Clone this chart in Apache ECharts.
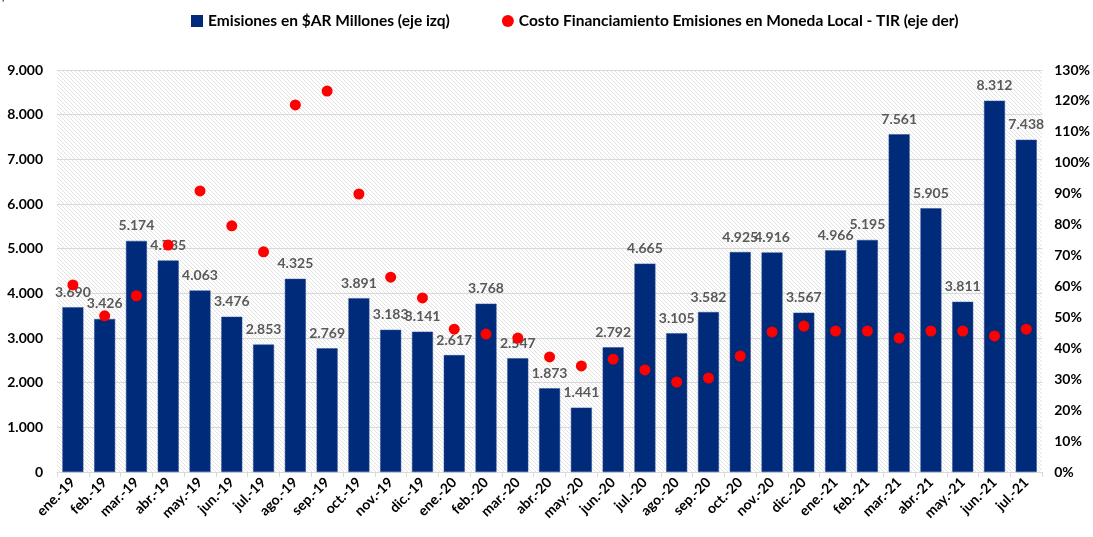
<!DOCTYPE html>
<html>
<head>
<meta charset="utf-8">
<script src="https://cdn.jsdelivr.net/npm/echarts@6/dist/echarts.min.js"></script>
<style>
  html, body { margin: 0; padding: 0; background: #fff; }
  #chart { width: 1093px; height: 537px; }
</style>
</head>
<body>
<div id="chart"></div>
<script>
// datos del gráfico
const meses = ['ene.-19', 'feb.-19', 'mar.-19', 'abr.-19', 'may.-19', 'jun.-19', 'jul.-19', 'ago.-19', 'sep.-19', 'oct.-19', 'nov.-19', 'dic.-19',
    'ene.-20', 'feb.-20', 'mar.-20', 'abr.-20', 'may.-20', 'jun.-20', 'jul.-20', 'ago.-20', 'sep.-20', 'oct.-20', 'nov.-20', 'dic.-20',
    'ene.-21', 'feb.-21', 'mar.-21', 'abr.-21', 'may.-21', 'jun.-21', 'jul.-21'];
const emisiones = [3690, 3426, 5174, 4735, 4063, 3476, 2853, 4325, 2769, 3891, 3183, 3141,
    2617, 3768, 2547, 1873, 1441, 2792, 4665, 3105, 3582, 4925, 4916, 3567,
    4966, 5195, 7561, 5905, 3811, 8312, 7438];
const tir = [60.5, 50.5, 57, 73.4, 90.9, 79.6, 71.2, 118.7, 123.2, 89.9, 63, 56.3,
    46.2, 44.6, 43.3, 37.2, 34.3, 36.5, 33, 29.1, 30.4, 37.5, 45.3, 47.2,
    45.6, 45.6, 43.3, 45.6, 45.6, 44, 46.2];
const ticksIzq = [0, 1000, 2000, 3000, 4000, 5000, 6000, 7000, 8000, 9000];

// trama rayada del fondo
const trama = document.createElement('canvas');
trama.width = 4;
trama.height = 4;
const ctx = trama.getContext('2d');
ctx.fillStyle = '#ffffff';
ctx.fillRect(0, 0, 4, 4);
ctx.strokeStyle = '#e2e2e2';
ctx.lineWidth = 1;
ctx.beginPath();
ctx.moveTo(-1, -1); ctx.lineTo(5, 5);
ctx.moveTo(-1, 3); ctx.lineTo(1, 5);
ctx.moveTo(3, -1); ctx.lineTo(5, 1);
ctx.stroke();

const fmtMiles = (v) => v.toLocaleString('de-DE');
const fuente = 'Lato, "Open Sans", sans-serif';

const chart = echarts.init(document.getElementById('chart'));
chart.setOption({
    animation: false,
    textStyle: { fontFamily: fuente },
    graphic: [{
        type: 'text', left: 0, top: -10,
        style: { text: '$AR Millones', font: 'bold 12px ' + fuente, fill: '#000' }
    }],
    legend: {
        top: 8,
        left: 186,
        itemGap: 52,
        itemWidth: 12,
        itemHeight: 12,
        textStyle: { fontSize: 15.5, fontWeight: 'bold', color: '#000', fontFamily: fuente },
        data: [
            { name: 'Emisiones en $AR Millones (eje izq)', icon: 'rect', itemStyle: { borderWidth: 0 } },
            { name: 'Costo Financiamiento Emisiones en Moneda Local - TIR (eje der)', icon: 'circle' }
        ]
    },
    grid: {
        left: 57, right: 45, top: 70, bottom: 65,
        show: true,
        borderWidth: 0,
        backgroundColor: { image: trama, repeat: 'repeat' }
    },
    xAxis: {
        type: 'category',
        data: meses,
        axisLine: { lineStyle: { color: '#d9d9d9' } },
        axisTick: { show: true, lineStyle: { color: '#d9d9d9' }, length: 5 },
        axisLabel: { rotate: 45, fontSize: 14, fontWeight: 'bold', color: '#000', margin: 8, interval: 0 }
    },
    yAxis: [{
        type: 'value',
        min: 0, max: 9000, interval: 1000,
        axisLabel: { formatter: (v) => ticksIzq.includes(v) ? fmtMiles(v) : '', fontSize: 14, fontWeight: 'bold', color: '#000', margin: 14 },
        splitLine: { lineStyle: { color: '#d9d9d9' } },
        axisLine: { show: false },
        axisTick: { show: false }
    }, {
        type: 'value',
        min: 0, max: 130, interval: 10,
        axisLabel: { formatter: '{value}%', fontSize: 14, fontWeight: 'bold', color: '#000', margin: 12 },
        splitLine: { show: false },
        axisLine: { show: false },
        axisTick: { show: false }
    }],
    series: [{
        name: 'Emisiones en $AR Millones (eje izq)',
        type: 'bar',
        data: emisiones,
        barCategoryGap: '34%',
        itemStyle: { color: '#002A7A', borderColor: '#2d4f92', borderWidth: 0.5 },
        label: {
            show: true,
            position: 'top',
            distance: 8,
            formatter: (p) => fmtMiles(p.value),
            fontSize: 14,
            fontWeight: 'bold',
            color: '#595959'
        },
        z: 2
    }, {
        name: 'Costo Financiamiento Emisiones en Moneda Local - TIR (eje der)',
        type: 'scatter',
        yAxisIndex: 1,
        data: tir,
        symbol: 'circle',
        symbolSize: 11,
        itemStyle: { color: '#FF0000', opacity: 1 },
        z: 5,
        zlevel: 1
    }]
});
window.addEventListener('resize', () => chart.resize());
</script>
</body>
</html>
